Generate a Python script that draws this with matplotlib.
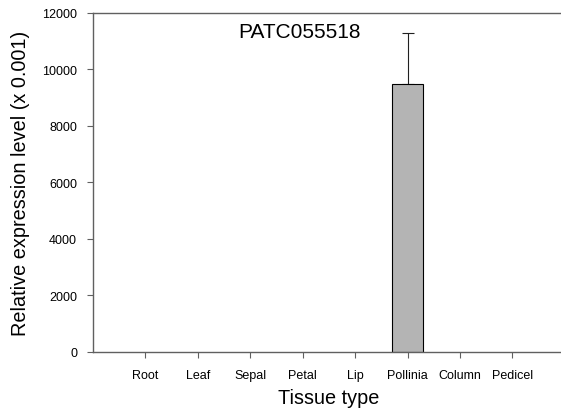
import numpy as np
import matplotlib.pyplot as plt
from matplotlib import rc
rc('font', **{'family': 'sans-serif', 'sans-serif': ['Liberation Sans', 'DejaVu Sans']})

tissues = ['Root', 'Leaf', 'Sepal', 'Petal', 'Lip', 'Pollinia', 'Column', 'Pedicel']
expr = [0, 0, 0, 0, 0, 9470, 0, 0]
err = [0, 0, 0, 0, 0, 1830, 0, 0]

fig = plt.figure(figsize=(5.61, 4.10), dpi=100)
ax = fig.add_axes([0.1658, 0.1398, 0.841, 0.8261])

x = np.arange(1, len(tissues) + 1)
expr = np.array(expr)
err = np.array(err)
bars = ax.bar(x, expr, width=0.6, color='#b4b4b4', edgecolor='black', linewidth=0.8, zorder=2)
# empty tissues: no outline on zero-height bars
for b, v in zip(bars, expr):
    if v == 0:
        b.set_edgecolor('none')
# upper error bars only where there is something to show
m = err > 0
ax.errorbar(x[m], expr[m], yerr=[np.zeros(m.sum()), err[m]], fmt='none', ecolor='#202020',
            elinewidth=0.8, capsize=4.5, capthick=0.8, zorder=1)

ax.set_xlim(0, 9)
ax.set_ylim(0, 12000)
ax.set_xticks(x)
ax.set_xticklabels(tissues)
ax.set_yticks(np.arange(0, 12001, 2000))
ax.tick_params(axis='both', labelsize=9, direction='out', length=4.5, width=0.8, color='#606060')
ax.tick_params(axis='x', pad=8)
ax.tick_params(axis='y', pad=7)

for s in ['left', 'bottom', 'top']:
    ax.spines[s].set_color('#606060')
    ax.spines[s].set_linewidth(1.0)
ax.spines['right'].set_visible(False)

ax.text(5.1, 11330, 'PATC055518', fontsize=15, ha='right', va='center')

ax.set_xlabel('Tissue type', fontsize=14.3, labelpad=5)
ax.set_ylabel('Relative expression level (x 0.001)', fontsize=14.3, labelpad=9)

plt.savefig('out.png', dpi=100)
